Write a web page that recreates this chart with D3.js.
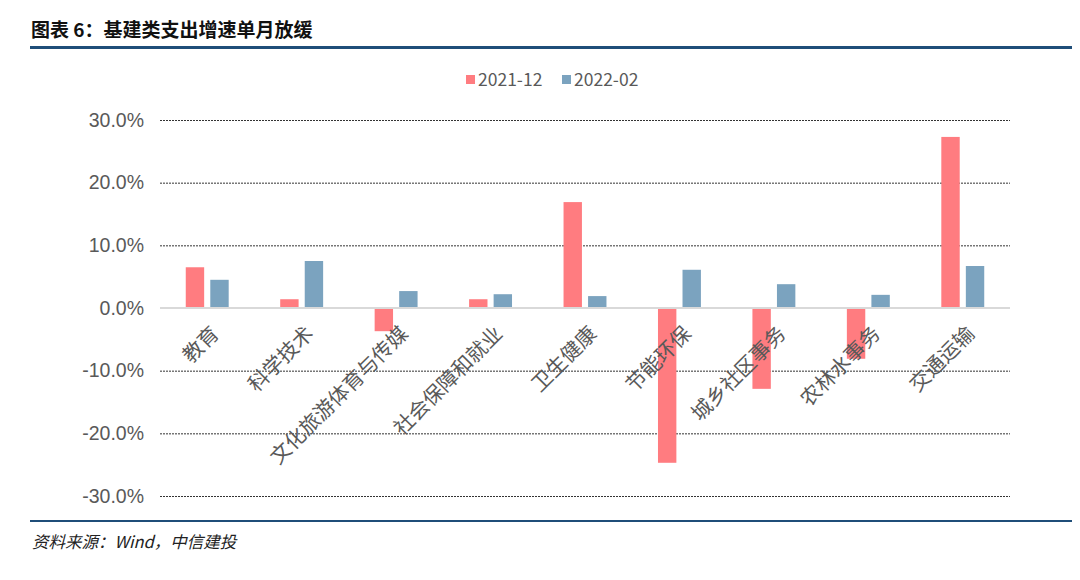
<!DOCTYPE html>
<html>
<meta charset="utf-8">
<head>
    <script src="https://d3js.org/d3.v7.min.js"></script>
    <style>
        body { margin: 0; background: #fff; }
    </style>
</head>
<body>
    <script>
        var categories = ["教育", "科学技术", "文化旅游体育与传媒", "社会保障和就业", "卫生健康",
                          "节能环保", "城乡社区事务", "农林水事务", "交通运输"];
        var series2112 = [6.5, 1.4, -3.7, 1.4, 16.9, -24.7, -12.9, -8.1, 27.3];
        var series2202 = [4.5, 7.5, 2.7, 2.2, 1.9, 6.1, 3.8, 2.1, 6.7];
        var seriesNames = ["2021-12", "2022-02"];
        var yTicks = [-30, -20, -10, 0, 10, 20, 30];

        var width = 1080,
            height = 580;

        var svg = d3.select("body").append("svg")
            .attr("width", width)
            .attr("height", height);

        // title + rules
        svg.append("text")
            .attr("x", 31).attr("y", 37)
            .attr("font-family", "Noto Sans CJK SC")
            .attr("font-weight", "bold")
            .attr("font-size", 19)
            .attr("fill", "#111")
            .text("图表 6：基建类支出增速单月放缓");
        svg.append("rect")
            .attr("x", 30).attr("y", 46).attr("width", 1042).attr("height", 3)
            .attr("fill", "#1f4e79");
        svg.append("rect")
            .attr("x", 30).attr("y", 520).attr("width", 1042).attr("height", 2)
            .attr("fill", "#1f4e79");
        svg.append("text")
            .attr("x", 32).attr("y", 548)
            .attr("font-family", "Noto Sans CJK SC, serif")
            .attr("font-style", "italic")
            .attr("font-size", 16.5)
            .attr("fill", "#222")
            .text("资料来源：Wind，中信建投");

        var x = d3.scaleBand()
            .domain(categories)
            .range([160, 1010]);

        var x1 = d3.scaleBand()
            .domain(seriesNames)
            .range([0, x.bandwidth()])
            .paddingInner(0.25)
            .paddingOuter(1.05);

        var y = d3.scaleLinear()
            .domain([-30, 30])
            .range([496, 120]);

        var color = d3.scaleOrdinal()
            .domain(seriesNames)
            .range(["#ff7c80", "#7ba3bf"]);

        // gridlines
        svg.append("g").selectAll("line")
            .data(yTicks.filter(function(d) { return d !== 0; }))
            .enter().append("line")
            .attr("x1", 160).attr("x2", 1010)
            .attr("y1", function(d) { return y(d) + 0.5; })
            .attr("y2", function(d) { return y(d) + 0.5; })
            .attr("stroke", "#333")
            .attr("stroke-width", 1)
            .attr("stroke-dasharray", "2,1");

        // y axis labels
        var yAxis = d3.axisLeft(y)
            .tickValues(yTicks)
            .tickSize(0)
            .tickPadding(0)
            .tickFormat(function(d) { return d.toFixed(1) + "%"; });
        var ya = svg.append("g")
            .attr("transform", "translate(144,0)")
            .call(yAxis);
        ya.select(".domain").remove();
        ya.selectAll("text")
            .attr("font-family", "Liberation Sans, Arial, sans-serif")
            .attr("font-size", 19.5)
            .attr("fill", "#595959");

        // bars
        var rows = categories.map(function(c, i) {
            return { cat: c, vals: [
                { key: seriesNames[0], v: series2112[i] },
                { key: seriesNames[1], v: series2202[i] }
            ] };
        });

        var groups = svg.append("g").selectAll("g")
            .data(rows)
            .enter().append("g")
            .attr("transform", function(d) { return "translate(" + x(d.cat) + ",0)"; });

        groups.selectAll("rect")
            .data(function(d) { return d.vals; })
            .enter().append("rect")
            .attr("x", function(d) { return x1(d.key); })
            .attr("width", x1.bandwidth())
            .attr("y", function(d) { return y(Math.max(0, d.v)); })
            .attr("height", function(d) { return Math.abs(y(d.v) - y(0)); })
            .attr("fill", function(d) { return color(d.key); });

        // zero line
        svg.append("line")
            .attr("x1", 160).attr("x2", 1010)
            .attr("y1", y(0)).attr("y2", y(0))
            .attr("stroke", "#d9d9d9")
            .attr("stroke-width", 2);

        // category labels
        svg.append("g").selectAll("text")
            .data(categories)
            .enter().append("text")
            .attr("transform", function(d) {
                return "translate(" + (x(d) + x.bandwidth() / 2 + 8) + "," + (y(0) + 22) + ") rotate(-45)";
            })
            .attr("text-anchor", "end")
            .attr("dy", "0.35em")
            .attr("font-family", "Noto Sans CJK SC")
            .attr("font-size", 20.5)
            .attr("fill", "#595959")
            .text(function(d) { return d; });

        // legend
        var legend = svg.append("g")
            .attr("transform", "translate(466,80)");
        var li = legend.selectAll("g")
            .data(seriesNames)
            .enter().append("g")
            .attr("transform", function(d, i) { return "translate(" + (i * 96) + ",0)"; });
        li.append("rect")
            .attr("x", 0).attr("y", -5)
            .attr("width", 9).attr("height", 9)
            .attr("fill", function(d) { return color(d); });
        li.append("text")
            .attr("x", 12).attr("y", 0)
            .attr("dy", "0.35em")
            .attr("font-family", "Noto Sans CJK SC")
            .attr("font-size", 17.5)
            .attr("fill", "#595959")
            .text(function(d) { return d; });
    </script>
</body>
</html>
